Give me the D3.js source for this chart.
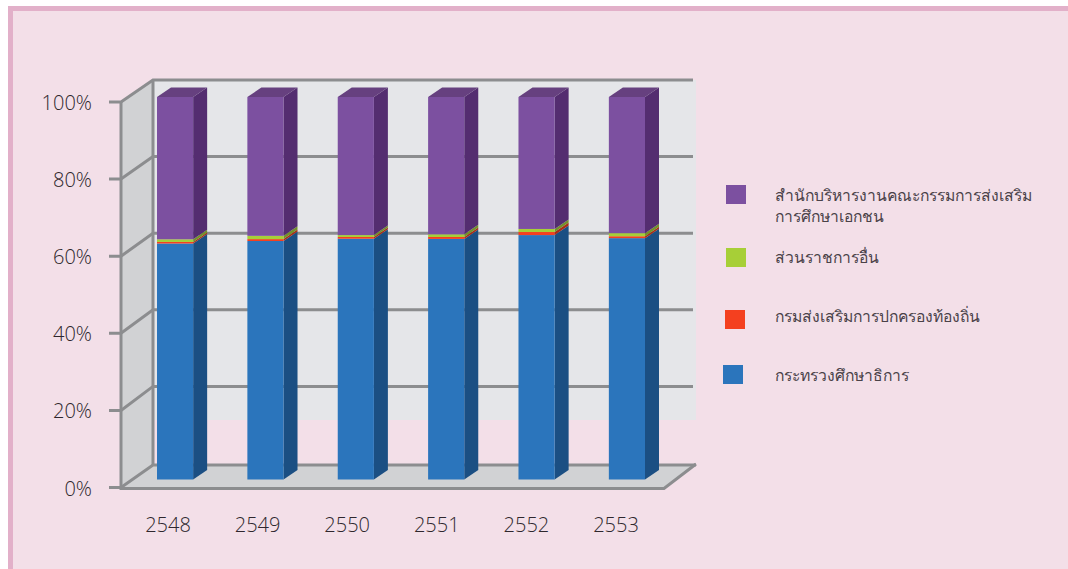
<!DOCTYPE html>
<html><head><meta charset="utf-8">
<script src="https://cdn.jsdelivr.net/npm/d3@7"></script>
<style>html,body{margin:0;padding:0;background:#fff}svg{display:block}text{font-family:"Open Sans","Noto Sans",sans-serif;fill:#2e272d}text.lg{fill:#4a4248}</style>
</head><body><svg id="c" width="1068" height="569"></svg>
<script>
const years=["2548","2549","2550","2551","2552","2553"];
const ministry=[61.7,62.35,62.95,62.9,63.9,63.1];
const localGov=[0.4,0.5,0.45,0.5,0.8,0.5];
const otherGov=[0.7,0.85,0.5,0.7,0.8,0.8];
const privateEd=[37.2,36.3,36.1,35.9,34.5,35.6];
const seriesNames=["กระทรวงศึกษาธิการ","กรมส่งเสริมการปกครองท้องถิ่น","ส่วนราชการอื่น","สำนักบริหารงานคณะกรรมการส่งเสริม|การศึกษาเอกชน"];
const yTicks=[0,20,40,60,80,100];
const seriesData=[ministry,localGov,otherGov,privateEd];
const front=["#2b75bc","#f4401f","#a7cf37","#7c50a0"];
const side=["#1b4f83","#a92d16","#74912a","#542d70"];
const topc=["#245f9a","#c83618","#8aab2f","#66407f"];
const svg=d3.select("#c");
const bg="#f3dfe8",band="#e2b0c9",grid="#8c8d8f";
svg.append("rect").attr("width",1068).attr("height",569).attr("fill","#fff");
svg.append("rect").attr("x",8).attr("y",6).attr("width",1060).attr("height",563).attr("fill",band);
svg.append("rect").attr("x",13).attr("y",11).attr("width",1055).attr("height",558).attr("fill",bg);
// scales
const yFront=d3.scaleLinear().domain([0,100]).range([487.5,102]);
const yBack=d3.scaleLinear().domain([0,100]).range([463,80]);
const floorBack=465;
const yBar=d3.scaleLinear().domain([0,100]).range([479.5,97]);
const x=d3.scaleBand().domain(years).range([157,645]).paddingInner(0.6).paddingOuter(0);
const xLabel=d3.scalePoint().domain(years).range([168,616]);
const dx=14,dy=-9.5;
const backY=t=>t===0?floorBack:yBack(t);
// back wall
svg.append("rect").attr("x",153).attr("y",yBack(100)).attr("width",543).attr("height",340).attr("fill","#e5e6e9");
// side wall
svg.append("path").attr("d",`M121,${yFront(100)}L153,${yBack(100)}L153,${floorBack}L121,${yFront(0)}Z`).attr("fill","#d1d2d4");
// floor
svg.append("path").attr("d",`M121,${yFront(0)}L153,${floorBack}L696,464L664,${yFront(0)}Z`).attr("fill","#d1d2d4");
// gridlines
const g=svg.append("g").attr("stroke",grid).attr("stroke-width",3).attr("fill","none");
yTicks.forEach(t=>{
  g.append("path").attr("d",`M109,${yFront(t)}H121L153,${backY(t)}H${t==0?696:693}`);
});
g.append("path").attr("d",`M121,${yFront(100)}V${yFront(0)+1}H664L696,464`);
g.append("path").attr("d",`M153,${yBack(100)}V${floorBack}`);
// tick labels
svg.append("g").selectAll("text").data(yTicks).join("text")
 .attr("x",92).attr("y",t=>yFront(t)+8).attr("text-anchor","end").attr("font-size",20).attr("font-weight",300).text(t=>t+"%");
svg.append("g").selectAll("text").data(years).join("text")
 .attr("x",d=>xLabel(d)).attr("y",532).attr("text-anchor","middle").attr("font-size",20).attr("font-weight",300).text(d=>d);
// bars
const stack=d3.stack().keys(d3.range(4)).value((d,k)=>seriesData[k][d])(d3.range(years.length));
const w=x.bandwidth();
years.forEach((yr,i)=>{
 const gb=svg.append("g");
 const X=x(yr);
 stack.forEach((s,k)=>{
  const y0=yBar(s[i][0]),y1=yBar(Math.min(s[i][1],100));
  gb.append("path").attr("d",`M${X+w},${y0}l${dx},${dy}V${y1+dy}l${-dx},${-dy}Z`).attr("fill",side[k]);
  gb.append("rect").attr("x",X).attr("y",y1).attr("width",w).attr("height",y0-y1).attr("fill",front[k]);
  if(k==3) gb.append("path").attr("d",`M${X},${y1}l${dx},${dy}h${w}l${-dx},${-dy}Z`).attr("fill",topc[k]);
 });
});
// legend
const lx=[723,725,726,726];
const ly=[365,310,248,185];
const lty=[381,322,263,201];
const leg=svg.append("g");
seriesNames.forEach((n,k)=>{
 leg.append("rect").attr("x",lx[k]).attr("y",ly[k]).attr("width",20).attr("height",19).attr("fill",front[k]);
 n.split("|").forEach((t,j)=>leg.append("text").attr("class","lg").attr("x",775).attr("y",lty[k]+j*21).attr("font-size",15.7).attr("font-weight",300).text(t));
});
</script></body></html>
